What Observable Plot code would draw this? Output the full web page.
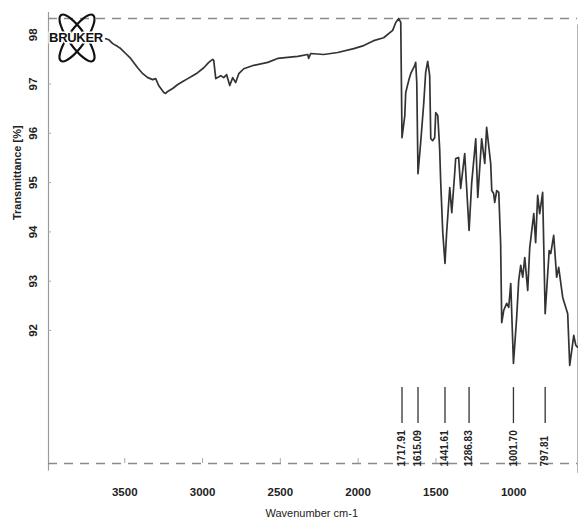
<!DOCTYPE html>
<html>
<head>
<meta charset="utf-8">
<script src="https://cdn.jsdelivr.net/npm/d3@7"></script>
<script src="https://cdn.jsdelivr.net/npm/@observablehq/plot@0.6"></script>
<style>
  html, body { margin: 0; padding: 0; background: #fff; }
  svg { display: block; }
</style>
</head>
<body>
<div id="chart"></div>
<script>
// FT-IR spectrum: wavenumber (cm-1) vs transmittance (%)
const wavenumber = [3622,3603,3577,3545,3526,3494,3462,3417,3384,3352,3320,3301,3282,3249,3237,3224,3192,3159,3127,3095,3063,3031,2992,2960,2935,2928,2915,2883,2864,2845,2825,2806,2787,2767,2735,2671,2581,2517,2388,2324,2318,2305,2221,2131,2028,1964,1900,1836,1778,1758,1739,1726,1717.91,1700,1694,1675,1662,1636,1630,1623,1615.09,1598,1578,1566,1553,1540,1533,1521,1508,1501,1488,1476,1469,1456,1441.61,1431,1411,1398,1379,1373,1354,1341,1315,1286.83,1270,1244,1231,1206,1186,1174,1148,1141,1129,1122,1109,1096,1084,1077,1064,1045,1032,1019,1001.70,981,968,955,942,929,910,897,871,859,846,833,814,797.81,772,762,743,724,711,685,653,640,614,601,590];
const transmittance = [97.92,97.90,97.82,97.76,97.72,97.62,97.52,97.33,97.21,97.13,97.09,97.11,96.97,96.83,96.81,96.85,96.91,96.99,97.05,97.11,97.17,97.23,97.33,97.44,97.50,97.48,97.11,97.17,97.13,97.19,96.97,97.13,97.03,97.21,97.31,97.38,97.44,97.52,97.56,97.60,97.52,97.62,97.60,97.64,97.72,97.78,97.88,97.94,98.09,98.25,98.33,98.25,95.91,96.36,96.83,97.07,97.21,97.38,97.44,97.03,95.18,95.81,96.62,97.23,97.46,97.17,95.89,95.85,95.91,96.42,96.36,95.69,95.00,93.99,93.36,93.99,94.90,94.39,95.20,95.49,95.51,94.88,95.59,94.03,95.00,95.89,94.70,95.89,95.39,96.12,95.39,94.84,94.78,94.60,94.84,94.80,93.76,92.16,92.41,92.55,92.47,92.95,91.33,92.26,93.01,93.32,93.08,93.48,92.81,93.68,94.37,93.78,94.74,94.37,94.80,92.34,93.62,93.56,93.93,93.08,93.28,92.67,92.34,91.29,91.90,91.70,91.66];

// picked peaks
const peakWavenumbers = [1717.91, 1615.09, 1441.61, 1286.83, 1001.70, 797.81];

// axis ticks
const xTicks = [3500, 3000, 2500, 2000, 1500, 1000];
const yTicks = [92, 93, 94, 95, 96, 97, 98];

const spectrum = wavenumber.map((w, i) => ({w, t: transmittance[i]}));

const X0 = 3990, X1 = 590, Y0 = 89.3, Y1 = 98.33;
const font = "'Liberation Sans', Arial, sans-serif";

const svg = Plot.plot({
  width: 578,
  height: 520,
  marginLeft: 48,
  marginRight: 1,
  marginTop: 18,
  marginBottom: 57,
  style: {background: "#fff", fontFamily: font},
  x: {domain: [X0, X1], axis: null},
  y: {domain: [Y0, Y1], axis: null},
  marks: [
    // frame
    Plot.ruleX([X0], {y1: 89.15, y2: 98.45, stroke: "#9a9a9a", strokeWidth: 1.2}),
    Plot.ruleX([X1], {y1: 89.1, y2: 98.2, stroke: "#b5b5b5", strokeWidth: 1}),
    Plot.ruleY([Y1], {stroke: "#8a8a8a", strokeWidth: 1.4, strokeDasharray: "9,7"}),
    Plot.ruleY([Y0], {stroke: "#8a8a8a", strokeWidth: 1.4, strokeDasharray: "9,7"}),
    // tick marks
    Plot.ruleY(yTicks, {x1: X0, x2: X0 - 20, stroke: "#aaa", strokeWidth: 1}),
    Plot.ruleX(xTicks, {y1: Y0, y2: Y0 + 0.1, stroke: "#aaa", strokeWidth: 1}),
    // tick labels
    Plot.text(xTicks, {x: d => d, y: Y0, dy: 29, text: d => String(d),
      fontSize: 11.5, fontWeight: "bold", fill: "#222"}),
    Plot.text(yTicks, {x: X0, y: d => d, dx: -15, text: d => String(d), rotate: -90,
      fontSize: 11.5, fontWeight: "bold", fill: "#222"}),
    // axis titles
    Plot.text(["Transmittance [%]"], {x: X0, y: 95.2, dx: -31, rotate: -90,
      fontSize: 11, fontWeight: "bold", fill: "#222"}),
    Plot.text(["Wavenumber cm-1"], {x: 2298, y: Y0, dy: 50,
      fontSize: 11, fill: "#222"}),
    // spectrum
    Plot.line(spectrum, {x: "w", y: "t", stroke: "#333", strokeWidth: 1.7, strokeLinejoin: "round"}),
    // peak markers and labels
    Plot.ruleX(peakWavenumbers, {y1: 90.11, y2: 90.84, stroke: "#333", strokeWidth: 1.3}),
    Plot.text(peakWavenumbers, {x: d => d, y: 89.24, text: d => d.toFixed(2), rotate: -90,
      textAnchor: "start", fontSize: 10, fontWeight: "bold", fill: "#222"})
  ]
});

// Bruker logo in the upper-left corner
const g = d3.select(svg).append("g").attr("transform", "translate(77,38)");
[35, -35].forEach(a => {
  g.append("ellipse")
    .attr("rx", 8.5).attr("ry", 28)
    .attr("transform", `rotate(${a})`)
    .attr("fill", "none").attr("stroke", "#111").attr("stroke-width", 2.2);
});
g.append("text")
  .attr("x", -1).attr("y", 1)
  .attr("text-anchor", "middle").attr("dominant-baseline", "middle")
  .attr("font-family", font).attr("font-weight", "bold").attr("font-size", 13)
  .attr("letter-spacing", -0.3)
  .attr("fill", "#111").attr("stroke", "#fff").attr("stroke-width", 3)
  .attr("paint-order", "stroke")
  .text("BRUKER");

document.getElementById("chart").appendChild(svg);
</script>
</body>
</html>
